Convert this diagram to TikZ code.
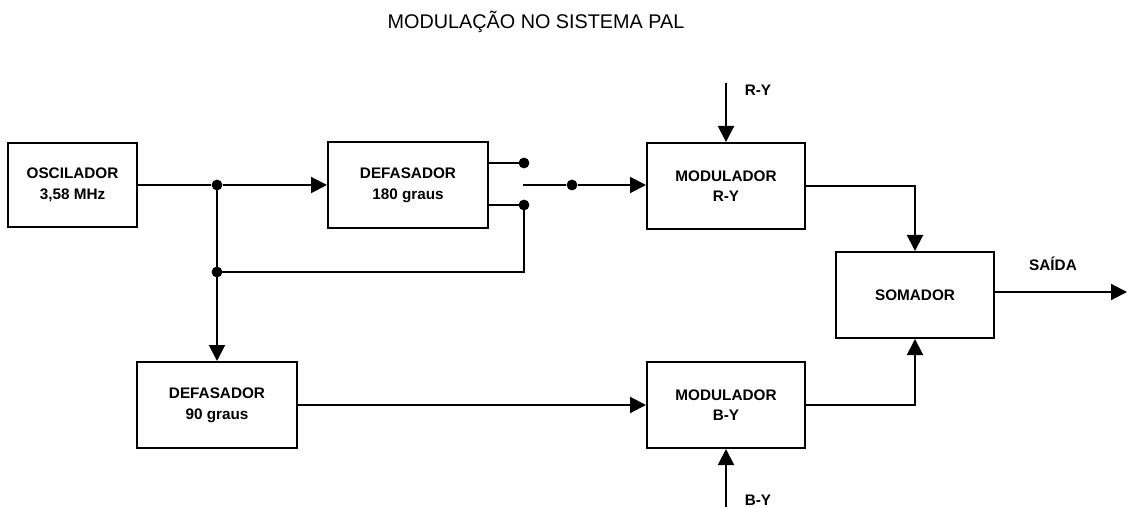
\documentclass[tikz,border=0pt]{standalone}
\usepackage{fontspec}
\setmainfont{Liberation Sans}
\usetikzlibrary{arrows.meta}

\begin{document}
\begin{tikzpicture}[
  x=0.5pt, y=-0.5pt,
  >={Triangle[length=8pt,width=8pt]},
  line width=1pt,
  block/.style={draw, line width=1pt, align=center, minimum width=80pt, minimum height=43pt, inner sep=2pt, font=\fontsize{7.65}{10.3}\selectfont\bfseries},
  sig_lbl/.style={inner sep=1pt, font=\fontsize{7.65}{10.3}\selectfont\bfseries},
  dot/.style={circle, fill=black, inner sep=0pt, minimum size=5.4pt},
  sig_arr/.style={->, line width=1pt},
  sig_line/.style={line width=1pt}
]
  \useasboundingbox (0,0) rectangle (1128,507);

  % Title
  \node[font=\fontsize{9.9}{12}\selectfont] (title) at (536,22) {MODULAÇÃO NO SISTEMA PAL};

  % Blocks
  \node[block, minimum width=64.5pt, minimum height=42pt] (osc) at (72.5,185) {OSCILADOR\\3,58 MHz};
  \node[block] (def180) at (408,185) {DEFASADOR\\180 graus};
  \node[block] (def90) at (217,405) {DEFASADOR\\90 graus};
  \node[block, minimum width=79pt] (modry) at (726,186) {MODULADOR\\R-Y};
  \node[block, minimum width=79pt] (modby) at (726,405) {MODULADOR\\B-Y};
  \node[block, minimum width=79pt] (soma) at (915,295) {SOMADOR};

  % Junctions and switch contacts
  \node[dot] (j1) at (217,185) {};
  \node[dot] (j2) at (217,272) {};
  \node[dot] (swa) at (524,163) {};
  \node[dot] (swb) at (524,205) {};
  \node[dot] (swp) at (572,185) {};
  \coordinate (swc) at (523,185);
  \coordinate (ryin) at (726,83);
  \coordinate (byin) at (726,507);
  \coordinate (out) at (1127,292);

  % Top path
  \draw[sig_arr] (osc.east |- j1) -- (j1) -- (def180.west |- j1);
  \draw[sig_line] (def180.east |- swa) -- (swa.center);
  \draw[sig_line] (def180.east |- swb) -- (swb.center);
  \draw[sig_arr] (swc) -- (swp) -- (modry.west |- swp);

  % Bypass to switch and 90 graus branch
  \draw[sig_line] (j2.center) -- (j2 -| swb) -- (swb.center);
  \draw[sig_arr] (j1.center) -- (j2.center) -- (def90.north);
  \draw[sig_arr] (def90.east) -- (modby.west |- def90.east);

  % Modulators to adder
  \draw[sig_arr] (ryin) -- (modry.north);
  \draw[sig_arr] (byin) -- (modby.south);
  \draw[sig_arr] (modry.east) -| (soma.north);
  \draw[sig_arr] (modby.east) -| (soma.south);
  \draw[sig_arr] (soma.east |- out) -- (out);

  % Labels
  \node[sig_lbl] (lry) at (758,90) {R-Y};
  \node[sig_lbl] (lby) at (758,500) {B-Y};
  \node[sig_lbl] (lout) at (1053,264) {SAÍDA};
\end{tikzpicture}
\end{document}
